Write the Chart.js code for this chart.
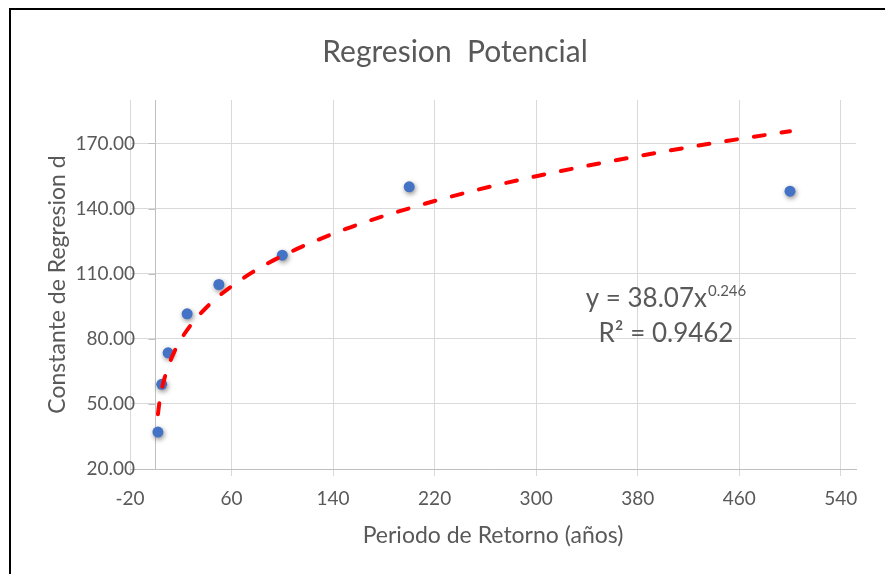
<!DOCTYPE html>
<html>
<head>
<meta charset="utf-8">
<title>Regresion Potencial</title>
<script src="https://cdn.jsdelivr.net/npm/chart.js@4.4.1/dist/chart.umd.min.js"></script>
<style>
  html, body { margin: 0; padding: 0; background: #fff; overflow: hidden; }
  #frame { position: absolute; left: 9px; top: 8px; width: 900px; height: 600px; border-left: 2px solid #000; border-top: 2px solid #000; }
  #wrap { position: absolute; left: 0; top: 0; width: 885px; height: 574px; }
</style>
</head>
<body>
<div id="frame"></div>
<div id="wrap"><canvas id="myChart"></canvas></div>
<script>
// periodo de retorno (años) y constante de regresion d
var periodos = [2, 5, 10, 25, 50, 100, 200, 500];
var constantes = [37, 59, 73.5, 91.5, 105, 118.5, 150, 148];

// linea de tendencia potencial
var tendX = [2, 3, 5, 7, 10, 15, 20, 30, 40, 50, 75, 100, 150, 200, 250, 300, 350, 400, 450, 500];
var tendY = [45.2, 49.9, 56.6, 61.4, 67.1, 74.1, 79.6, 87.9, 94.3, 99.7, 110.1, 118.2, 130.6, 140.1, 148.1, 154.9, 160.8, 166.2, 171.1, 175.6];

// marcas de los ejes
var xTicks = [-20, 60, 140, 220, 300, 380, 460, 540];
var yTicks = [20, 50, 80, 110, 140, 170];

var ecuacion = "y = 38.07x";
var exponente = "0.246";
var r2 = "R\u00b2 = 0.9462";

var gris = '#595959';
var lineaGrid = '#d9d9d9';

// eje vertical en x = 0, etiquetas del eje y, sombra de los puntos y la ecuacion
var extras = {
  id: 'extras',
  beforeDatasetsDraw: function(chart) {
    var ctx = chart.ctx;
    var area = chart.chartArea;
    var x0 = Math.round(chart.scales.x.getPixelForValue(0)) + 0.5;
    ctx.save();
    ctx.strokeStyle = '#bfbfbf';
    ctx.lineWidth = 1;
    ctx.beginPath();
    ctx.moveTo(x0, area.top);
    ctx.lineTo(x0, area.bottom);
    for (var i = 0; i < yTicks.length; i++) {
      var y = Math.round(chart.scales.y.getPixelForValue(yTicks[i])) + 0.5;
      ctx.moveTo(x0 - 7, y);
      ctx.lineTo(x0, y);
    }
    ctx.stroke();
    // etiquetas del eje y (a 5px dentro del area, como en excel)
    ctx.fillStyle = gris;
    ctx.font = '19px Lato';
    ctx.textAlign = 'right';
    ctx.textBaseline = 'middle';
    for (var k = 0; k < yTicks.length; k++) {
      ctx.fillText(yTicks[k].toFixed(2), area.left + 5, chart.scales.y.getPixelForValue(yTicks[k]));
    }
    ctx.restore();
  },
  beforeDatasetDraw: function(chart, args) {
    if (args.index === 1) {
      chart.ctx.save();
      chart.ctx.shadowColor = 'rgba(0,0,0,0.45)';
      chart.ctx.shadowBlur = 5;
      chart.ctx.shadowOffsetX = 1;
      chart.ctx.shadowOffsetY = 2;
    }
  },
  afterDatasetDraw: function(chart, args) {
    if (args.index === 1) {
      chart.ctx.restore();
    }
  },
  afterDraw: function(chart) {
    var ctx = chart.ctx;
    var cx = 666;
    ctx.save();
    ctx.fillStyle = gris;
    ctx.textBaseline = 'alphabetic';
    ctx.textAlign = 'left';
    ctx.font = '26px Lato';
    var w1 = ctx.measureText(ecuacion).width;
    ctx.font = '15px Lato';
    var w2 = ctx.measureText(exponente).width;
    var x1 = cx - (w1 + w2 + 1) / 2;
    ctx.font = '26px Lato';
    ctx.fillText(ecuacion, x1, 307);
    ctx.font = '15px Lato';
    ctx.fillText(exponente, x1 + w1 + 1, 296);
    ctx.font = '26px Lato';
    ctx.textAlign = 'center';
    ctx.fillText(r2, cx, 342);
    ctx.restore();
  }
};

var puntos = [];
for (var i = 0; i < periodos.length; i++) {
  puntos.push({x: periodos[i], y: constantes[i]});
}
var tendencia = [];
for (var j = 0; j < tendX.length; j++) {
  tendencia.push({x: tendX[j], y: tendY[j]});
}

var ctx = document.getElementById('myChart').getContext('2d');
var myChart = new Chart(ctx, {
  type: 'scatter',
  data: {
    datasets: [{
      type: 'line',
      label: 'Potencial',
      data: tendencia,
      borderColor: '#ff0000',
      borderWidth: 4,
      borderDash: [11, 17],
      borderCapStyle: 'round',
      pointRadius: 0,
      fill: false,
      cubicInterpolationMode: 'monotone',
      showLine: true
    }, {
      label: 'Constante d',
      data: puntos,
      backgroundColor: '#4472c4',
      borderColor: '#4472c4',
      borderWidth: 0,
      pointRadius: 5.5
    }]
  },
  options: {
    responsive: true,
    maintainAspectRatio: false,
    animation: false,
    layout: { padding: { left: 54, right: 29, top: 0, bottom: 0 } },
    plugins: {
      legend: { display: false },
      tooltip: { enabled: false },
      title: {
        display: true,
        text: 'Regresion  Potencial',
        color: gris,
        font: { family: 'Lato', size: 30, weight: 'normal' },
        padding: { top: 34, bottom: 30 }
      }
    },
    scales: {
      x: {
        type: 'linear',
        min: -20,
        max: 552,
        afterBuildTicks: function(s) {
          s.ticks = xTicks.map(function(v) { return {value: v}; });
        },
        afterFit: function(s) { s.height = 105; },
        grid: { color: lineaGrid, tickColor: lineaGrid, drawTicks: true, tickLength: 7 },
        border: { color: '#bfbfbf' },
        ticks: { color: gris, font: { family: 'Lato', size: 19 }, padding: 11, maxRotation: 0, autoSkip: false },
        title: {
          display: true,
          text: 'Periodo de Retorno (años)',
          color: gris,
          font: { family: 'Lato', size: 23 },
          padding: { top: 0, bottom: 25 }
        }
      },
      y: {
        type: 'linear',
        min: 20,
        max: 190,
        afterBuildTicks: function(s) {
          s.ticks = yTicks.map(function(v) { return {value: v}; });
        },
        afterFit: function(s) { s.width = 76; },
        grid: { color: lineaGrid, drawTicks: false },
        border: { display: false },
        ticks: { display: false },
        title: {
          display: true,
          text: 'Constante de Regresion d',
          color: gris,
          font: { family: 'Lato', size: 23 },
          padding: { top: -10, bottom: 0 }
        }
      }
    }
  },
  plugins: [extras]
});
</script>
</body>
</html>
